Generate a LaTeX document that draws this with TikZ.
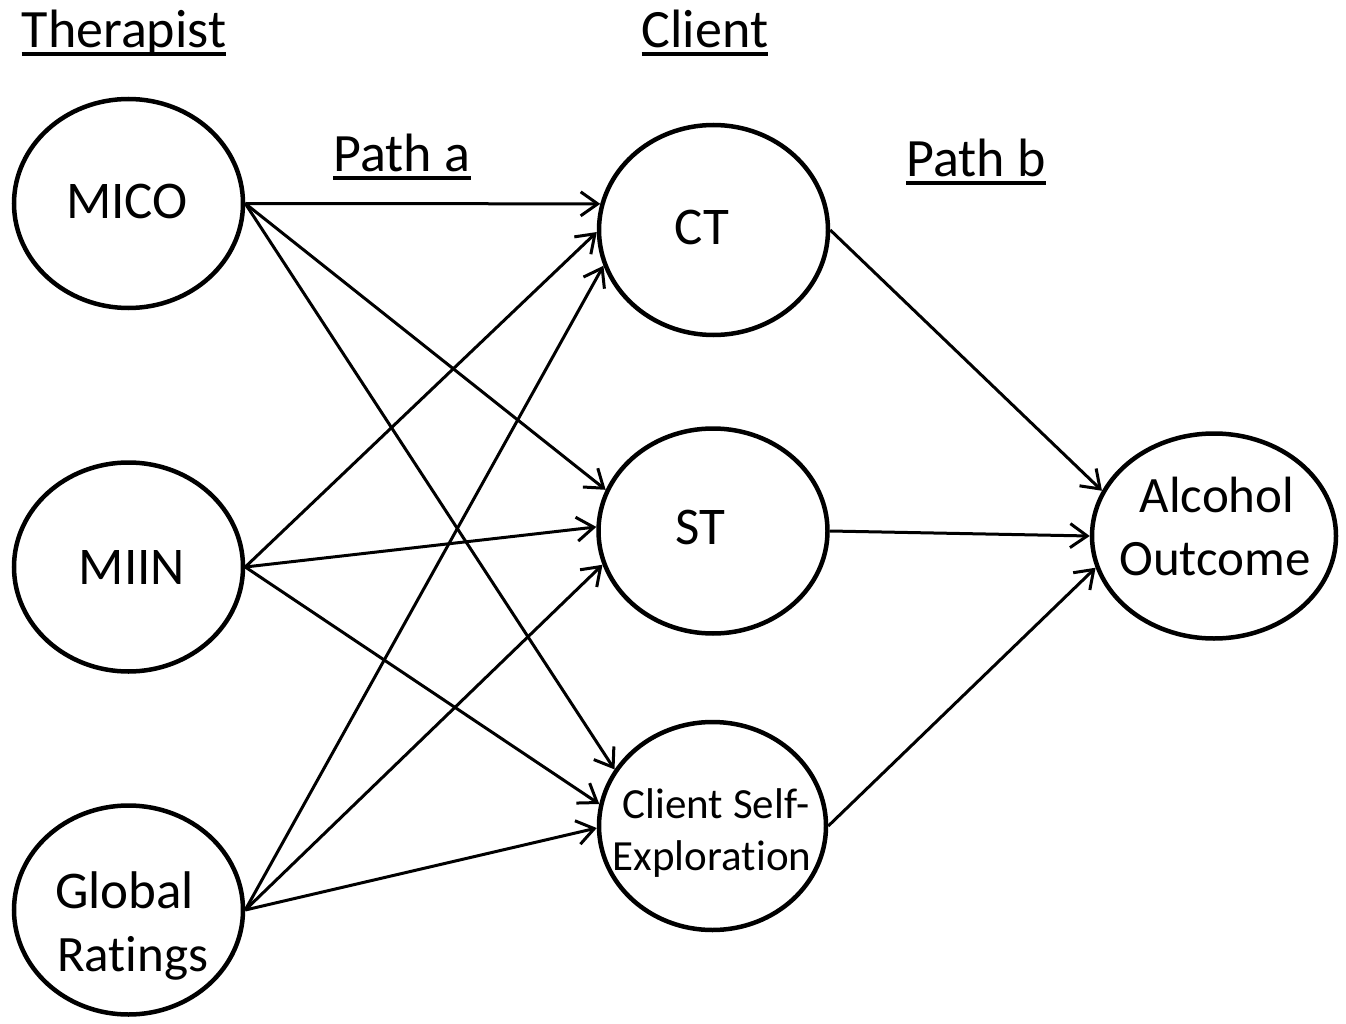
\documentclass[tikz,border=0pt]{standalone}
\usepackage{fontspec}
\setmainfont{Carlito}[Ligatures=NoCommon]
\usetikzlibrary{arrows.meta,shapes.geometric}
\begin{document}
\begin{tikzpicture}[x=1pt,y=-1pt,
  ell/.style={draw,ellipse,line width=4.5pt,inner sep=0pt,minimum width=229pt,minimum height=209pt},
  txt/.style={inner sep=0pt,anchor=base,font=\fontsize{53}{62}\selectfont},
  ttl/.style={inner sep=0pt,anchor=base,font=\fontsize{54}{62}\selectfont},
  ul/.style={line width=3.2pt},
  arr/.style={line width=3pt,-{Straight Barb[length=17pt,width=24pt,line width=3pt]}}]
\useasboundingbox (0,0) rectangle (1346,1024);
% titles
\node[ttl] (ther) at (124,48) {Therapist};
\node[ttl] (cli) at (705,48) {Client};
\node[ttl] (pa) at (402,172) {Path a};
\node[ttl] (pb) at (976,177) {Path b};
\foreach \n in {ther,cli,pa,pb}
  \draw[ul] ([yshift=-6pt]\n.base west) -- ([yshift=-6pt]\n.base east);
% ellipses
\node[ell] (MICO) at (128.5,203.5) {};
\node[ell] (MIIN) at (128.5,567) {};
\node[ell] (GR) at (128.5,910) {};
\node[ell,minimum height=210pt] (CT) at (713.5,230) {};
\node[ell,minimum height=205pt] (ST) at (713,531) {};
\node[ell,minimum width=227pt,minimum height=208pt] (CSE) at (712.5,826) {};
\node[ell,minimum width=244pt,minimum height=205pt] (AO) at (1214,536) {};
% texts
\node[txt] (tMICO) at (127,219) {MICO};
\node[txt] (tMIIN) at (132,584) {MIIN};
\node[txt,anchor=base west] (tGR1) at (55,908) {Global};
\node[txt,anchor=base west,font=\fontsize{51}{60}\selectfont] (tGR2) at (57,971) {Ratings};
\node[txt] (tCT) at (702,245) {CT};
\node[txt] (tST) at (700,544) {ST};
\node[txt,font=\fontsize{51}{60}\selectfont] (tAO1) at (1217,512) {Alcohol};
\node[txt,font=\fontsize{51}{60}\selectfont] (tAO2) at (1215,575) {Outcome};
\node[txt,font=\fontsize{43}{52}\selectfont] (tCSE1) at (716,818) {Client Self-};
\node[txt,font=\fontsize{43}{52}\selectfont] (tCSE2) at (712,870) {Exploration};
% path a
\draw[arr] (MICO.east) -- (CT.167);
\draw[arr] (MICO.east) -- (ST.159);
\draw[arr] (MICO.east) -- (CSE.150.6);
\draw[arr] (MIIN.east) -- (CT.181);
\draw[arr] (MIIN.east) -- (ST.178.5);
\draw[arr] (MIIN.east) -- (CSE.169.9);
\draw[arr] (GR.east) -- (CT.198);
\draw[arr] (GR.east) -- (ST.197);
\draw[arr] (GR.east) -- (CSE.181);
% path b
\draw[arr] (CT.east) -- (AO.158);
\draw[arr] (ST.east) -- (AO.180.5);
\draw[arr] (CSE.east) -- (AO.195.8);
\end{tikzpicture}
\end{document}
